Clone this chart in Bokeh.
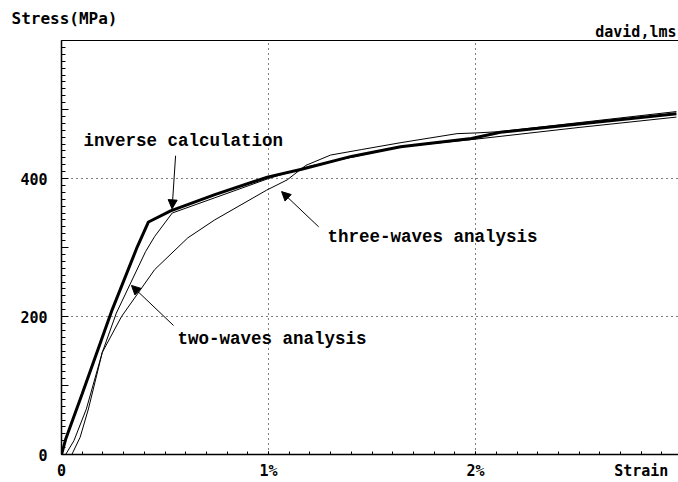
from bokeh.plotting import figure
from bokeh.models import (Range1d, FixedTicker, SingleIntervalTicker, Label, Arrow,
                          NormalHead, LinearAxis, Title)
from bokeh.embed import file_html
from bokeh.resources import INLINE

# ---- data (strain in %, stress in MPa) ----
strain_inv = [0, 0.02, 0.10, 0.245, 0.366, 0.42, 0.527, 0.744, 0.994, 1.155, 1.40, 1.638, 1.98, 2.12, 2.5, 2.97]
stress_inv = [0, 22, 88, 210, 301, 337, 353, 377, 402, 413, 432, 446, 458, 467, 479, 494]

strain_two = [0.02, 0.06, 0.12, 0.197, 0.265, 0.406, 0.45, 0.535, 0.74, 1.0, 1.2, 1.64, 2.0, 2.5, 2.97]
stress_two = [0, 20, 66, 148, 205, 294, 316, 350, 372, 400, 418, 446, 457, 474, 489]

strain_three = [0.05, 0.09, 0.13, 0.197, 0.29, 0.45, 0.61, 0.74, 0.99, 1.09, 1.18, 1.30, 1.45, 1.64, 1.91, 2.0, 2.12, 2.5, 2.97]
stress_three = [0, 25, 66, 148, 200, 268, 314, 340, 383, 398, 419, 434, 442, 452, 465, 466, 468, 481, 497]

x_tick_values = [0, 1, 2, 2.80]
x_tick_labels = ["0", "1%", "2%", "Strain"]
y_tick_values = [0, 100, 200, 300, 400, 500, 600]
y_tick_labels = ["0", "", "200", "", "400", "", ""]

TICK_FONT = "DejaVu Sans Mono"
NOTE_FONT = "Liberation Mono"

p = figure(width=678, height=482, output_backend="svg", toolbar_location=None,
           x_range=Range1d(0, 2.98), y_range=Range1d(0, 600),
           min_border_left=61, min_border_right=0, min_border_top=40, min_border_bottom=26)
p.outline_line_color = None
p.background_fill_color = "white"

# axes
for ax in (p.xaxis[0], p.yaxis[0]):
    ax.axis_line_color = "black"
    ax.axis_line_width = 1.5
    ax.major_tick_line_color = "black"
    ax.minor_tick_line_color = "black"
    ax.major_tick_out = 0
    ax.minor_tick_out = 0
    ax.major_label_text_font = TICK_FONT
    ax.major_label_text_font_style = "bold"
    ax.major_label_text_font_size = "15px"
    ax.major_label_text_color = "black"

p.xaxis.ticker = FixedTicker(ticks=x_tick_values, minor_ticks=[i / 10 for i in range(30)])
p.xaxis.major_label_overrides = dict(zip(x_tick_values, x_tick_labels))
p.xaxis.major_tick_in = 3
p.xaxis.minor_tick_in = 3
p.xaxis.major_label_standoff = 7

p.yaxis.ticker = SingleIntervalTicker(interval=100, num_minor_ticks=10)
p.yaxis.major_label_overrides = dict(zip(y_tick_values, y_tick_labels))
p.yaxis.major_tick_in = 7
p.yaxis.minor_tick_in = 4
p.yaxis.major_label_standoff = 14

# top border line as a bare axis
top = LinearAxis(major_label_text_font_size="0px", major_tick_line_color=None,
                 minor_tick_line_color=None, axis_line_color="black", axis_line_width=1.2)
top.ticker = FixedTicker(ticks=[])
p.add_layout(top, "above")

p.add_layout(Title(text="david,lms", align="right", offset=2, standoff=0,
                   text_font=TICK_FONT, text_font_style="bold", text_font_size="15px",
                   text_color="black"), "above")
p.add_layout(Title(text="Stress(MPa)", align="left", offset=-50, standoff=-15,
                   text_font=TICK_FONT, text_font_style="bold", text_font_size="16px",
                   text_color="black"), "above")

# grid
p.xgrid.ticker = FixedTicker(ticks=[1, 2])
p.ygrid.ticker = FixedTicker(ticks=[200, 400])
for g in (p.xgrid[0], p.ygrid[0]):
    g.grid_line_color = "black"
    g.grid_line_dash = "1 4"
    g.grid_line_width = 1

# curves
p.line(strain_two, stress_two, line_color="black", line_width=1)
p.line(strain_three, stress_three, line_color="black", line_width=1)
p.line(strain_inv, stress_inv, line_color="black", line_width=3)

# annotation texts
for xx, yy, tt in [(0.106, 455, "inverse calculation"), (1.285, 315, "three-waves analysis"),
                   (0.56, 168, "two-waves analysis")]:
    p.add_layout(Label(x=xx, y=yy, text=tt, text_font=NOTE_FONT, text_font_style="bold",
                       text_font_size="17.5px", text_align="left", text_baseline="middle",
                       text_color="black"))

# arrows
for xs, ys, xe, ye in [(0.551, 433, 0.534, 356), (1.242, 330, 1.063, 381), (0.541, 187, 0.338, 245)]:
    p.add_layout(Arrow(end=NormalHead(size=9, fill_color="black", line_color="black"),
                       x_start=xs, y_start=ys, x_end=xe, y_end=ye, line_width=1, line_color="black"))

open("out.html", "w").write(file_html(p, INLINE))
